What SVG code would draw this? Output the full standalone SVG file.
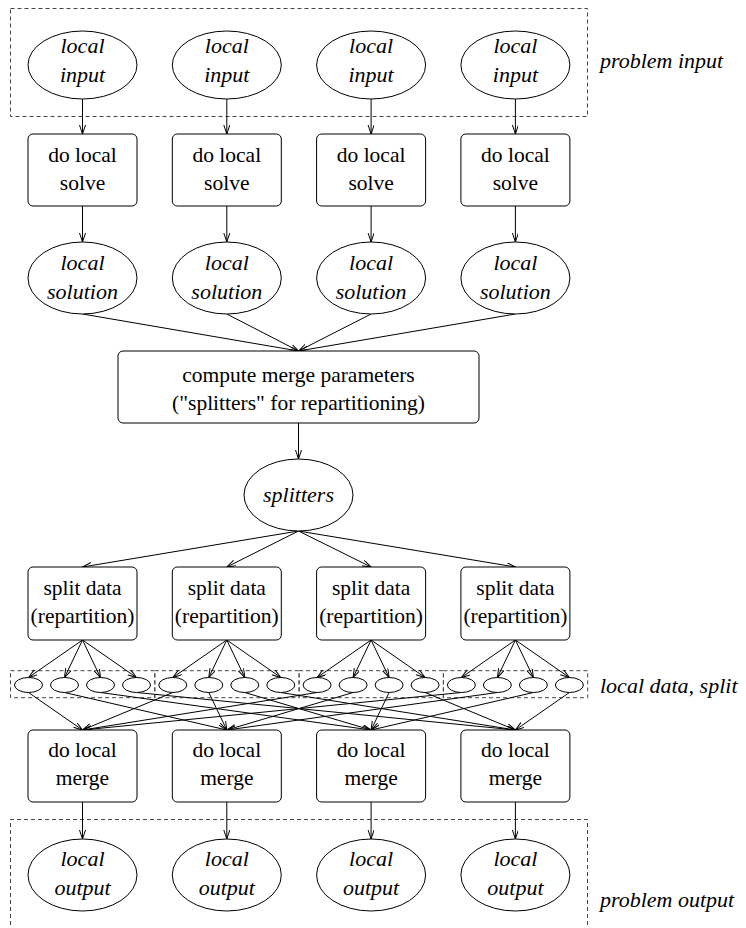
<svg xmlns="http://www.w3.org/2000/svg" width="746" height="928" viewBox="0 0 746 928">
<style>
text{font-size:21.5px;fill:#000;text-anchor:middle}
.i{font-style:italic;font-size:22px}
.l{text-anchor:start}
.n{fill:#fff;stroke:#000;stroke-width:1}
.d{fill:none;stroke:#444;stroke-width:1;stroke-dasharray:4 3}
.e line{stroke:#000;stroke-width:1;marker-end:url(#ah)}
</style>
<defs>
<marker id="ah" markerWidth="10" markerHeight="8" refX="9" refY="3" orient="auto" markerUnits="userSpaceOnUse"><path d="M0,0 L9,3 L0,6" fill="none" stroke="#000" stroke-width="1"/></marker>
</defs>
<rect width="746" height="928" fill="#fff"/>
<g font-family="Liberation Serif, Times New Roman, serif">
<g id="groups">
<rect class="d" x="10.5" y="8.5" width="577" height="108"/>
<text class="i l" x="600" y="68">problem input</text>
<rect class="d" x="10.5" y="670.7" width="144.3" height="27"/>
<rect class="d" x="154.8" y="670.7" width="144.3" height="27"/>
<rect class="d" x="299.1" y="670.7" width="144.3" height="27"/>
<rect class="d" x="443.4" y="670.7" width="144.3" height="27"/>
<text class="i l" x="600" y="693">local data, split</text>
<path class="d" d="M10.5,932 V819.5 H587.5 V932"/>
<text class="i l" x="600" y="907">problem output</text>
</g>
<g class="e" id="connectors">
<line x1="82.5" y1="99" x2="82.5" y2="134"/>
<line x1="226.8" y1="99" x2="226.8" y2="134"/>
<line x1="371.1" y1="99" x2="371.1" y2="134"/>
<line x1="515.4" y1="99" x2="515.4" y2="134"/>
<line x1="82.5" y1="206" x2="82.5" y2="242"/>
<line x1="226.8" y1="206" x2="226.8" y2="242"/>
<line x1="371.1" y1="206" x2="371.1" y2="242"/>
<line x1="515.4" y1="206" x2="515.4" y2="242"/>
<line x1="82.5" y1="314" x2="298.5" y2="351"/>
<line x1="226.8" y1="314" x2="298.5" y2="351"/>
<line x1="371.1" y1="314" x2="298.5" y2="351"/>
<line x1="515.4" y1="314" x2="298.5" y2="351"/>
<line x1="298.5" y1="423" x2="298.5" y2="459"/>
<line x1="298.5" y1="531" x2="82.5" y2="567"/>
<line x1="298.5" y1="531" x2="226.8" y2="567"/>
<line x1="298.5" y1="531" x2="371.1" y2="567"/>
<line x1="298.5" y1="531" x2="515.4" y2="567"/>
<line x1="82.5" y1="640" x2="28.5" y2="677.5"/>
<line x1="82.5" y1="640" x2="64.5" y2="677.5"/>
<line x1="82.5" y1="640" x2="100.5" y2="677.5"/>
<line x1="82.5" y1="640" x2="136.5" y2="677.5"/>
<line x1="226.8" y1="640" x2="172.8" y2="677.5"/>
<line x1="226.8" y1="640" x2="208.8" y2="677.5"/>
<line x1="226.8" y1="640" x2="244.8" y2="677.5"/>
<line x1="226.8" y1="640" x2="280.8" y2="677.5"/>
<line x1="371.1" y1="640" x2="317.1" y2="677.5"/>
<line x1="371.1" y1="640" x2="353.1" y2="677.5"/>
<line x1="371.1" y1="640" x2="389.1" y2="677.5"/>
<line x1="371.1" y1="640" x2="425.1" y2="677.5"/>
<line x1="515.4" y1="640" x2="461.4" y2="677.5"/>
<line x1="515.4" y1="640" x2="497.4" y2="677.5"/>
<line x1="515.4" y1="640" x2="533.4" y2="677.5"/>
<line x1="515.4" y1="640" x2="569.4" y2="677.5"/>
<line x1="28.5" y1="692.5" x2="82.5" y2="730"/>
<line x1="64.5" y1="692.5" x2="226.8" y2="730"/>
<line x1="100.5" y1="692.5" x2="371.1" y2="730"/>
<line x1="136.5" y1="692.5" x2="515.4" y2="730"/>
<line x1="172.8" y1="692.5" x2="82.5" y2="730"/>
<line x1="208.8" y1="692.5" x2="226.8" y2="730"/>
<line x1="244.8" y1="692.5" x2="371.1" y2="730"/>
<line x1="280.8" y1="692.5" x2="515.4" y2="730"/>
<line x1="317.1" y1="692.5" x2="82.5" y2="730"/>
<line x1="353.1" y1="692.5" x2="226.8" y2="730"/>
<line x1="389.1" y1="692.5" x2="371.1" y2="730"/>
<line x1="425.1" y1="692.5" x2="515.4" y2="730"/>
<line x1="461.4" y1="692.5" x2="82.5" y2="730"/>
<line x1="497.4" y1="692.5" x2="226.8" y2="730"/>
<line x1="533.4" y1="692.5" x2="371.1" y2="730"/>
<line x1="569.4" y1="692.5" x2="515.4" y2="730"/>
<line x1="82.5" y1="802" x2="82.5" y2="839"/>
<line x1="226.8" y1="802" x2="226.8" y2="839"/>
<line x1="371.1" y1="802" x2="371.1" y2="839"/>
<line x1="515.4" y1="802" x2="515.4" y2="839"/>
</g>
<g id="input1"><ellipse class="n" cx="82.5" cy="65" rx="54.5" ry="34"/><text class="i" x="82.5" y="53">local</text><text class="i" x="82.5" y="82">input</text></g>
<g id="input2"><ellipse class="n" cx="226.8" cy="65" rx="54.5" ry="34"/><text class="i" x="226.8" y="53">local</text><text class="i" x="226.8" y="82">input</text></g>
<g id="input3"><ellipse class="n" cx="371.1" cy="65" rx="54.5" ry="34"/><text class="i" x="371.1" y="53">local</text><text class="i" x="371.1" y="82">input</text></g>
<g id="input4"><ellipse class="n" cx="515.4" cy="65" rx="54.5" ry="34"/><text class="i" x="515.4" y="53">local</text><text class="i" x="515.4" y="82">input</text></g>
<g id="solve1"><rect class="n" x="28" y="134" width="109" height="72" rx="5"/><text x="82.5" y="162">do local</text><text x="82.5" y="190">solve</text></g>
<g id="solve2"><rect class="n" x="172.3" y="134" width="109" height="72" rx="5"/><text x="226.8" y="162">do local</text><text x="226.8" y="190">solve</text></g>
<g id="solve3"><rect class="n" x="316.6" y="134" width="109" height="72" rx="5"/><text x="371.1" y="162">do local</text><text x="371.1" y="190">solve</text></g>
<g id="solve4"><rect class="n" x="460.9" y="134" width="109" height="72" rx="5"/><text x="515.4" y="162">do local</text><text x="515.4" y="190">solve</text></g>
<g id="solution1"><ellipse class="n" cx="82.5" cy="278" rx="54.5" ry="36"/><text class="i" x="82.5" y="270">local</text><text class="i" x="82.5" y="299">solution</text></g>
<g id="solution2"><ellipse class="n" cx="226.8" cy="278" rx="54.5" ry="36"/><text class="i" x="226.8" y="270">local</text><text class="i" x="226.8" y="299">solution</text></g>
<g id="solution3"><ellipse class="n" cx="371.1" cy="278" rx="54.5" ry="36"/><text class="i" x="371.1" y="270">local</text><text class="i" x="371.1" y="299">solution</text></g>
<g id="solution4"><ellipse class="n" cx="515.4" cy="278" rx="54.5" ry="36"/><text class="i" x="515.4" y="270">local</text><text class="i" x="515.4" y="299">solution</text></g>
<g id="compute"><rect class="n" x="118" y="351" width="361" height="72" rx="5"/><text x="298.5" y="382">compute merge parameters</text><text x="298.5" y="410">("splitters" for repartitioning)</text></g>
<g id="splitters"><ellipse class="n" cx="298.5" cy="495" rx="54.5" ry="36"/><text class="i" x="298.5" y="502">splitters</text></g>
<g id="split1"><rect class="n" x="28" y="567" width="109" height="73" rx="5"/><text x="82.5" y="595">split data</text><text x="82.5" y="623">(repartition)</text></g>
<g id="split2"><rect class="n" x="172.3" y="567" width="109" height="73" rx="5"/><text x="226.8" y="595">split data</text><text x="226.8" y="623">(repartition)</text></g>
<g id="split3"><rect class="n" x="316.6" y="567" width="109" height="73" rx="5"/><text x="371.1" y="595">split data</text><text x="371.1" y="623">(repartition)</text></g>
<g id="split4"><rect class="n" x="460.9" y="567" width="109" height="73" rx="5"/><text x="515.4" y="595">split data</text><text x="515.4" y="623">(repartition)</text></g>
<g id="parts">
<ellipse class="n" cx="28.5" cy="685" rx="14" ry="7.5"/><ellipse class="n" cx="64.5" cy="685" rx="14" ry="7.5"/><ellipse class="n" cx="100.5" cy="685" rx="14" ry="7.5"/><ellipse class="n" cx="136.5" cy="685" rx="14" ry="7.5"/>
<ellipse class="n" cx="172.8" cy="685" rx="14" ry="7.5"/><ellipse class="n" cx="208.8" cy="685" rx="14" ry="7.5"/><ellipse class="n" cx="244.8" cy="685" rx="14" ry="7.5"/><ellipse class="n" cx="280.8" cy="685" rx="14" ry="7.5"/>
<ellipse class="n" cx="317.1" cy="685" rx="14" ry="7.5"/><ellipse class="n" cx="353.1" cy="685" rx="14" ry="7.5"/><ellipse class="n" cx="389.1" cy="685" rx="14" ry="7.5"/><ellipse class="n" cx="425.1" cy="685" rx="14" ry="7.5"/>
<ellipse class="n" cx="461.4" cy="685" rx="14" ry="7.5"/><ellipse class="n" cx="497.4" cy="685" rx="14" ry="7.5"/><ellipse class="n" cx="533.4" cy="685" rx="14" ry="7.5"/><ellipse class="n" cx="569.4" cy="685" rx="14" ry="7.5"/>
</g>
<g id="merge1"><rect class="n" x="28" y="730" width="109" height="72" rx="5"/><text x="82.5" y="757">do local</text><text x="82.5" y="785">merge</text></g>
<g id="merge2"><rect class="n" x="172.3" y="730" width="109" height="72" rx="5"/><text x="226.8" y="757">do local</text><text x="226.8" y="785">merge</text></g>
<g id="merge3"><rect class="n" x="316.6" y="730" width="109" height="72" rx="5"/><text x="371.1" y="757">do local</text><text x="371.1" y="785">merge</text></g>
<g id="merge4"><rect class="n" x="460.9" y="730" width="109" height="72" rx="5"/><text x="515.4" y="757">do local</text><text x="515.4" y="785">merge</text></g>
<g id="output1"><ellipse class="n" cx="82.5" cy="875" rx="54.5" ry="36"/><text class="i" x="82.5" y="866">local</text><text class="i" x="82.5" y="895">output</text></g>
<g id="output2"><ellipse class="n" cx="226.8" cy="875" rx="54.5" ry="36"/><text class="i" x="226.8" y="866">local</text><text class="i" x="226.8" y="895">output</text></g>
<g id="output3"><ellipse class="n" cx="371.1" cy="875" rx="54.5" ry="36"/><text class="i" x="371.1" y="866">local</text><text class="i" x="371.1" y="895">output</text></g>
<g id="output4"><ellipse class="n" cx="515.4" cy="875" rx="54.5" ry="36"/><text class="i" x="515.4" y="866">local</text><text class="i" x="515.4" y="895">output</text></g>
</g>
</svg>
